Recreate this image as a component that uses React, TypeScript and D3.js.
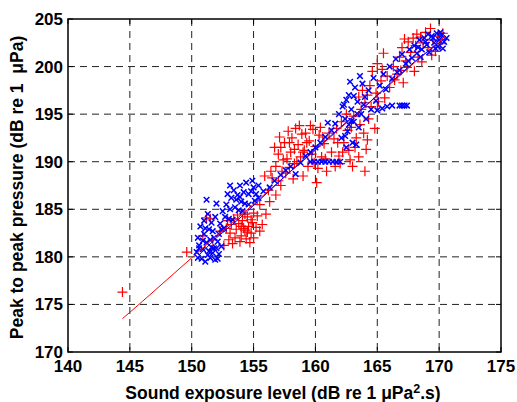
import React from "react";
import * as d3 from "d3";

const xTicks = [140, 145, 150, 155, 160, 165, 170, 175];
const yTicks = [170, 175, 180, 185, 190, 195, 200, 205];

const redPoints: [number, number][] = [
  [144.4,176.3],[149.6,180.5],
  [150.9,182.2],[151.2,184.1],[151.7,181.8],[151.5,184.0],[152.3,182.7],[152.8,183.0],[153.1,182.5],[153.3,181.4],
  [153.6,182.9],[153.8,183.5],[154.0,182.2],[154.1,183.8],[154.3,182.8],[154.4,181.9],[154.5,184.2],[154.6,183.2],
  [154.8,182.5],[154.9,183.6],[155.0,182.0],[155.2,183.1],[155.3,184.3],[155.5,182.7],[155.7,183.4],[153.9,181.6],
  [154.2,183.0],[154.7,181.5],
  [153.4,184.0],[153.5,182.0],[153.7,184.4],[154.0,183.2],[154.3,184.5],[154.5,182.6],[154.8,183.9],[155.0,184.6],
  [153.2,183.4],[152.6,181.2],[153.0,181.8],[152.9,183.8],
  [155.5,185.5],[156.0,184.5],[156.2,187.0],[156.5,188.3],[156.8,186.5],[157.2,187.5],[156.3,185.8],
  [155.9,188.5],[156.4,189.0],[157.0,188.0],
  [156.8,189.5],[157.0,190.8],[157.2,191.5],[157.3,189.0],[157.5,192.0],[157.7,190.3],[157.8,193.2],[158.0,191.0],
  [158.1,192.5],[158.3,189.8],[158.4,193.5],[158.6,191.8],[158.8,190.5],[158.9,192.9],[159.1,191.2],[159.2,193.0],
  [159.4,189.5],[159.5,192.2],[159.7,190.8],[159.8,193.4],[160.0,191.6],[160.2,189.3],[160.3,192.8],[160.5,190.5],
  [160.7,191.9],[160.9,189.0],[161.1,193.0],[158.2,188.2],[157.6,188.8],[159.0,188.5],[160.1,187.8],
  [156.7,191.5],[157.1,192.6],[157.4,190.2],[157.9,189.4],[158.5,190.0],[158.7,193.8],[159.3,192.0],[159.6,193.8],
  [160.4,193.6],[160.6,192.6],[159.9,189.9],[157.9,192.0],[158.3,191.3],[159.0,191.0],[160.8,190.3],
  [161.3,191.0],[161.5,192.4],[161.7,193.5],[161.9,190.6],[162.1,194.2],[162.3,192.0],[162.5,195.0],[162.7,191.2],
  [162.9,193.6],[163.1,194.8],[163.3,192.5],[163.5,190.5],[163.7,195.5],[163.9,193.0],[164.1,191.3],[164.3,194.5],
  [164.5,195.8],[164.8,193.5],[162.0,189.8],[163.0,189.5],[164.0,189.0],
  [161.6,189.5],[162.2,191.0],[162.6,193.3],[163.2,191.5],[163.6,193.9],[164.2,192.3],[161.8,192.0],[162.8,190.2],
  [163.5,196.8],[163.8,197.5],[164.0,196.2],[164.4,198.0],[164.6,199.5],[164.9,197.2],[165.0,200.3],[165.3,198.5],
  [165.5,201.4],[165.6,196.7],[165.8,199.0],[166.0,197.8],[166.3,200.0],[166.6,199.2],[167.1,198.3],
  [164.2,197.0],[165.1,196.3],[165.4,199.7],[166.4,198.6],
  [166.8,201.0],[167.0,202.0],[167.3,200.6],[167.5,202.6],[167.7,201.5],[167.9,203.0],[168.1,202.2],[168.3,201.0],
  [168.5,203.1],[168.7,202.5],[168.9,203.6],[169.1,202.0],[169.3,204.0],[169.5,202.8],[169.7,201.6],[169.9,203.2],
  [170.1,202.4],[168.0,199.5],[167.4,199.9],
  [167.2,202.9],[168.2,203.4],[168.6,200.5],[169.4,201.2],[170.3,203.5],[166.9,199.6]
];

const bluePoints: [number, number][] = [
  [150.4,180.5],[150.6,181.2],[150.5,182.0],[150.8,179.8],[150.9,180.8],[151.0,182.4],[151.1,179.5],[151.2,181.5],
  [151.3,180.2],[151.4,182.9],[151.5,179.9],[151.6,181.0],[151.7,180.4],[151.8,182.0],[151.9,179.7],[152.0,180.9],
  [152.1,181.6],[152.2,180.3],[152.3,183.5],[152.4,181.1],[150.7,183.2],[151.0,183.8],[151.3,184.5],[151.6,183.6],
  [151.9,184.2],[152.5,184.8],[152.8,185.5],[153.0,184.0],[153.2,186.2],[153.4,187.0],[153.5,185.2],[153.7,186.5],
  [153.9,187.5],[154.0,185.8],[154.2,186.8],[154.4,187.8],[154.6,185.5],[154.8,186.9],[155.0,187.3],[155.1,185.9],
  [152.6,183.0],[153.3,183.9],[154.1,184.8],[151.2,186.0],[152.0,185.6],
  [150.5,179.9],[150.9,181.7],[151.4,180.6],[151.8,180.9],[152.2,182.4],[151.1,183.0],[151.7,182.7],[152.1,179.8],
  [150.6,180.9],[151.5,181.8],[152.4,182.9],[152.7,184.2],[153.1,185.0],[153.6,186.0],[153.8,184.9],[154.3,185.6],
  [154.6,186.6],[155.2,186.6],[155.4,187.5],[154.9,188.0],[153.9,186.3],[153.1,187.5],[152.9,186.6],
  [155.4,186.2],[155.8,186.9],[156.3,187.3],[156.7,188.0],[157.2,188.6],[157.6,189.1],[158.0,189.5],[158.4,188.7],
  [158.8,189.9],[159.2,190.6],[159.6,191.0],[160.0,191.5],[160.4,192.0],[160.8,192.6],[161.0,194.1],[161.3,193.3],
  [161.6,194.0],
  [159.6,190.0],[159.9,190.0],[160.2,190.0],[160.5,190.0],[160.8,190.0],[161.1,190.0],[161.4,190.0],[161.7,190.0],
  [162.0,190.0],
  [161.9,195.0],[162.1,192.5],[162.3,196.0],[162.4,194.5],[162.6,193.2],[162.7,197.0],[162.9,195.5],[163.0,192.0],
  [163.1,194.2],[163.2,197.8],[163.4,196.3],[163.5,193.6],[163.7,195.0],[163.8,198.2],[164.0,196.8],[164.1,194.5],
  [164.3,197.5],[164.5,195.5],[164.7,198.8],[164.9,196.4],[162.5,191.5],[163.3,191.8],[162.8,198.4],[163.6,199.0],
  [162.2,195.8],[162.5,196.5],[162.9,194.3],[163.1,196.9],[163.4,195.0],[163.9,196.0],[162.7,193.9],[162.4,192.7],
  [165.0,195.4],[165.4,195.6],[165.8,195.8],[166.2,195.9],
  [166.8,195.9],[167.0,195.9],[167.2,195.9],[167.4,195.9],
  [165.2,198.0],[165.5,199.2],[165.7,197.6],[166.0,200.0],[166.2,198.7],[166.5,200.8],[166.8,199.6],[167.0,201.3],
  [167.3,200.3],[167.6,201.8],[167.8,200.9],[167.5,200.6],[166.6,199.4],
  [168.0,202.2],[168.2,201.4],[168.4,202.8],[168.6,201.8],[168.8,203.0],[169.0,202.3],[169.2,201.5],[169.4,203.2],
  [169.6,202.5],[169.8,203.5],[170.0,202.8],[170.2,203.3],[170.4,202.6],[170.6,203.0],[169.1,203.4],[169.7,201.9],
  [170.3,201.9],[168.5,201.0],[168.3,202.0],[168.9,202.6],[169.5,203.0],[170.1,203.6],[169.9,202.1]
];

const redFit: [number, number][] = [
  [144.4,173.5],[146,175.3],[148,177.6],[150,179.9],[152,182.2],[154,184.4],[156,186.7],[158,189.0],
  [160,191.2],[162,193.5],[164,195.8],[166,198.1],[168,200.4],[170.5,203.2]
];

const blueFit: [number, number][] = [
  [150.6,180.2],[152,182.0],[154,184.2],[156,186.6],[158,189.0],[160,191.3],[162,193.6],[164,195.8],
  [166,198.2],[168,200.5],[170.5,203.0]
];

const W = 517, H = 402;
const L = 68, R = 501, T = 19, B = 352;
const FONT = "'Liberation Sans', Arial, sans-serif";

export default function App() {
  const x = d3.scaleLinear().domain([140, 175]).range([L, R]);
  const y = d3.scaleLinear().domain([170, 205]).range([B, T]);
  const line = d3.line<[number, number]>().x(d => x(d[0])).y(d => y(d[1]));
  const tickLen = 5;

  return (
    <svg width={W} height={H} style={{ position: "absolute", left: 0, top: 0, background: "#fff" }}>
      <rect x={0} y={0} width={W} height={H} fill="#fff" />
      {xTicks.slice(1, -1).map(t => (
        <line key={"gx" + t} x1={x(t)} x2={x(t)} y1={T} y2={B} stroke="#222" strokeWidth={1} strokeDasharray="7,5" />
      ))}
      {yTicks.slice(1, -1).map(t => (
        <line key={"gy" + t} x1={L} x2={R} y1={y(t)} y2={y(t)} stroke="#222" strokeWidth={1} strokeDasharray="7,5" />
      ))}
      {xTicks.map(t => (
        <g key={"tx" + t}>
          <line x1={x(t)} x2={x(t)} y1={B} y2={B - tickLen} stroke="#000" />
          <line x1={x(t)} x2={x(t)} y1={T} y2={T + tickLen} stroke="#000" />
        </g>
      ))}
      {yTicks.map(t => (
        <g key={"ty" + t}>
          <line x1={L} x2={L + tickLen} y1={y(t)} y2={y(t)} stroke="#000" />
          <line x1={R} x2={R - tickLen} y1={y(t)} y2={y(t)} stroke="#000" />
        </g>
      ))}
      {redPoints.map((p, i) => {
        const cx = x(p[0]), cy = y(p[1]), s = 5;
        return (
          <path key={"r" + i} d={`M${cx - s},${cy}H${cx + s}M${cx},${cy - s}V${cy + s}`} stroke="#ff0000" strokeWidth={1.2} fill="none" />
        );
      })}
      {bluePoints.map((p, i) => {
        const cx = x(p[0]), cy = y(p[1]), s = 2.8;
        return (
          <path key={"b" + i} d={`M${cx - s},${cy - s}L${cx + s},${cy + s}M${cx - s},${cy + s}L${cx + s},${cy - s}`} stroke="#0000ff" strokeWidth={1.5} fill="none" />
        );
      })}
      <path d={line(redFit) || ""} stroke="#ff0000" strokeWidth={1} fill="none" />
      <path d={line(blueFit) || ""} stroke="#0000ff" strokeWidth={1} fill="none" />
      <rect x={L} y={T} width={R - L} height={B - T} fill="none" stroke="#000" strokeWidth={1.5} />
      {xTicks.map(t => (
        <text key={"lx" + t} x={x(t)} y={372} textAnchor="middle" fontFamily={FONT} fontWeight="bold" fontSize={17}>{t}</text>
      ))}
      {yTicks.map(t => (
        <text key={"ly" + t} x={63} y={y(t) + 6} textAnchor="end" fontFamily={FONT} fontWeight="bold" fontSize={17}>{t}</text>
      ))}
      <text x={283} y={399} textAnchor="middle" fontFamily={FONT} fontWeight="bold" fontSize={17.5}>
        Sound exposure level (dB re 1 μPa<tspan dy={-6} fontSize={12.5}>2</tspan><tspan dy={6}>.s)</tspan>
      </text>
      <text transform={`translate(23,${(T + B) / 2 + 2}) rotate(-90)`} textAnchor="middle" fontFamily={FONT} fontWeight="bold" fontSize={17.5} xmlSpace="preserve">
        Peak to peak pressure (dB re 1  μPa)
      </text>
    </svg>
  );
}
